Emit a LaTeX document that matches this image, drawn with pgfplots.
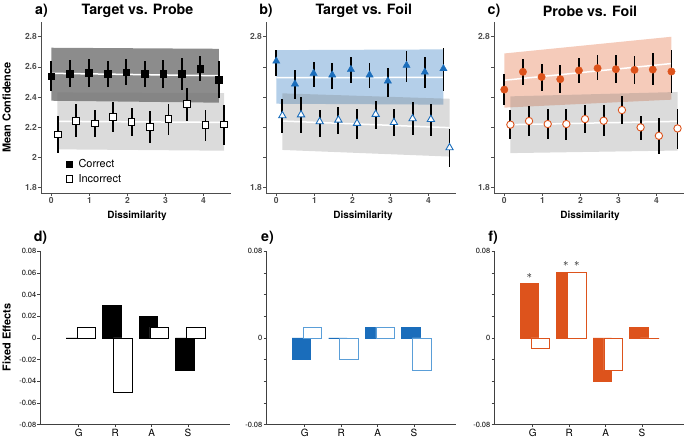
\documentclass[border=0pt]{standalone}
\usepackage{pgfplots}
\pgfplotsset{compat=1.18}
\usepackage{pgfplotstable}
\usepackage{fontspec}
\setmainfont{TeX Gyre Heros}
\definecolor{cblue}{HTML}{1A6DBB}
\definecolor{corange}{HTML}{DD531C}
\definecolor{lblue}{HTML}{5A9ED8}
\definecolor{axgray}{HTML}{4D4D4D}

% ---- panel a ----
\pgfplotstableread{
x y lo hi
0.00 2.539 2.439 2.638
0.49 2.554 2.468 2.643
0.99 2.561 2.468 2.654
1.48 2.554 2.464 2.636
1.97 2.565 2.477 2.652
2.46 2.554 2.466 2.641
2.94 2.554 2.457 2.645
3.43 2.554 2.446 2.656
3.91 2.588 2.506 2.672
4.40 2.515 2.395 2.638
}\aCor
\pgfplotstableread{
x y lo hi
0.18 2.152 2.030 2.273
0.65 2.242 2.136 2.351
1.14 2.225 2.132 2.313
1.62 2.267 2.169 2.364
2.11 2.234 2.143 2.327
2.59 2.200 2.092 2.307
3.08 2.254 2.147 2.351
3.57 2.353 2.242 2.459
4.05 2.214 2.108 2.315
4.54 2.218 2.079 2.346
}\aInc
% ---- panel b ----
\pgfplotstableread{
x y lo hi
0.00 2.638 2.539 2.712
0.49 2.486 2.384 2.579
0.98 2.557 2.464 2.632
1.47 2.546 2.453 2.626
1.96 2.583 2.490 2.665
2.45 2.546 2.462 2.626
2.93 2.506 2.402 2.594
3.42 2.610 2.501 2.705
3.90 2.565 2.457 2.663
4.39 2.588 2.442 2.723
}\bCor
\pgfplotstableread{
x y lo hi
0.16 2.276 2.163 2.386
0.65 2.282 2.163 2.397
1.14 2.236 2.136 2.313
1.63 2.247 2.154 2.331
2.12 2.225 2.123 2.322
2.61 2.285 2.189 2.375
3.09 2.231 2.138 2.322
3.58 2.256 2.146 2.366
4.06 2.251 2.143 2.351
4.55 2.063 1.933 2.189
}\bInc
% ---- panel c ----
\pgfplotstableread{
x y lo hi
0.00 2.449 2.349 2.551
0.49 2.567 2.482 2.649
0.98 2.533 2.440 2.622
1.47 2.518 2.424 2.611
1.96 2.576 2.496 2.662
2.45 2.591 2.511 2.676
2.93 2.584 2.491 2.680
3.42 2.580 2.487 2.673
3.90 2.582 2.478 2.693
4.39 2.569 2.427 2.711
}\cCor
\pgfplotstableread{
x y lo hi
0.16 2.216 2.118 2.311
0.65 2.240 2.138 2.338
1.14 2.220 2.122 2.318
1.63 2.220 2.116 2.318
2.12 2.253 2.160 2.344
2.61 2.242 2.138 2.344
3.09 2.313 2.222 2.404
3.58 2.198 2.116 2.273
4.06 2.142 2.018 2.262
4.55 2.191 2.056 2.320
}\cInc

\pgfplotsset{
  topax/.style={
    scale only axis, width=190bp, height=171.3bp, anchor=south west,
    xmin=-0.27, xmax=4.72, ymin=1.762, ymax=2.9,
    axis x line*=bottom, axis y line*=left,
    axis line style={axgray, line width=0.7bp, -},
    xtick={0,1,2,3,4},
    ytick={1.8,2,2.2,2.4,2.6,2.8},
    tick align=outside, major tick length=3bp,
    tick style={axgray, line width=0.7bp},
    /pgf/number format/assume math mode=true,
    ticklabel style={font=\bfseries\fontsize{8.5}{9}\selectfont, text=axgray},
    yticklabel style={inner sep=1bp},
    xticklabel style={inner sep=1.5bp},
  },
  errs/.style={error bars/.cd, y dir=both, y explicit, error mark=none,
    error bar style={line width=1.8bp, black, solid}},
  botax/.style={
    scale only axis, width=190bp, height=173.5bp, anchor=south west,
    xmin=-0.06, xmax=5.15, ymin=-0.08, ymax=0.08,
    axis x line*=bottom, axis y line*=left,
    axis line style={black!75, line width=0.6bp, -},
    xtick={1,2,3,4}, xticklabels={G,R,A,S},
    ytick={-0.08,-0.06,-0.04,-0.02,0,0.02,0.04,0.06,0.08},
    scaled y ticks=false,
    tick align=outside, major tick length=2.5bp,
    tick style={black!75, line width=0.6bp},
    /pgf/number format/assume math mode=true,
    xticklabel style={font=\fontsize{10}{11}\selectfont, inner sep=1.5bp},
    yticklabel style={font=\fontsize{7.5}{8}\selectfont, inner sep=1bp},
  },
}

\begin{document}
\begin{tikzpicture}
\useasboundingbox (0,0) rectangle (685bp,440bp);

% ================= a =================
\begin{axis}[topax, at={(41bp,247bp)},
  yticklabels={1.8,2,2.2,2.4,2.6,2.8},
  legend style={at={(axis cs:0.38,2.0)}, anchor=north west, draw=none, fill=none,
    font=\fontsize{11}{13}\selectfont, row sep=1bp, inner sep=0pt,
    /tikz/every odd column/.style={column sep=4bp}},
  legend cell align=left]
\addplot[draw=none, fill=black, fill opacity=0.45, forget plot] coordinates {(0,2.375) (4.40,2.362) (4.40,2.720) (0,2.727)} -- cycle;
\addplot[draw=none, fill=black!56, fill opacity=0.25, forget plot] coordinates {(0.16,2.052) (4.54,2.043) (4.54,2.426) (0.16,2.430)} -- cycle;
\addplot[white, line width=1.5bp, forget plot] coordinates {(0,2.557) (4.40,2.541)};
\addplot[white, line width=1.5bp, forget plot] coordinates {(0.16,2.238) (4.54,2.231)};
\addplot[only marks, mark=square*, mark size=3.3bp, black, errs] table[x=x, y=y, y error plus expr=\thisrow{hi}-\thisrow{y}, y error minus expr=\thisrow{y}-\thisrow{lo}] {\aCor};
\addlegendentry{Correct}
\addplot[only marks, mark=square*, mark size=3.3bp, mark options={fill=white, draw=black, line width=0.9bp}, errs] table[x=x, y=y, y error plus expr=\thisrow{hi}-\thisrow{y}, y error minus expr=\thisrow{y}-\thisrow{lo}] {\aInc};
\addlegendentry{Incorrect}
\end{axis}

% ================= b =================
\begin{axis}[topax, at={(266bp,247bp)}, yticklabels={1.8,,,,,2.8}]
\addplot[draw=none, fill=cblue, fill opacity=0.33] coordinates {(0,2.355) (4.39,2.349) (4.39,2.716) (0,2.711)} -- cycle;
\addplot[draw=none, fill=black!56, fill opacity=0.25] coordinates {(0.16,2.048) (4.55,2.004) (4.55,2.388) (0.16,2.424)} -- cycle;
\addplot[white, line width=1.5bp] coordinates {(0,2.528) (4.39,2.530)};
\addplot[white, line width=1.5bp] coordinates {(0.16,2.240) (4.55,2.196)};
\addplot[only marks, mark=triangle*, mark size=4.2bp, cblue, errs] table[x=x, y=y, y error plus expr=\thisrow{hi}-\thisrow{y}, y error minus expr=\thisrow{y}-\thisrow{lo}] {\bCor};
\addplot[only marks, mark=triangle*, mark size=4.2bp, mark options={fill=white, draw=cblue, line width=0.9bp}, errs] table[x=x, y=y, y error plus expr=\thisrow{hi}-\thisrow{y}, y error minus expr=\thisrow{y}-\thisrow{lo}] {\bInc};
\end{axis}

% ================= c =================
\begin{axis}[topax, at={(494bp,247bp)}, yticklabels={1.8,,,,,2.8}]
\addplot[draw=none, fill=corange, fill opacity=0.3] coordinates {(0,2.329) (4.39,2.382) (4.39,2.800) (0,2.689)} -- cycle;
\addplot[draw=none, fill=black!56, fill opacity=0.25] coordinates {(0.16,2.027) (4.55,2.044) (4.55,2.433) (0.16,2.404)} -- cycle;
\addplot[white, line width=1.5bp] coordinates {(0,2.511) (4.39,2.622)};
\addplot[white, line width=1.5bp] coordinates {(0.16,2.216) (4.55,2.238)};
\addplot[only marks, mark=*, mark size=3.7bp, corange, errs] table[x=x, y=y, y error plus expr=\thisrow{hi}-\thisrow{y}, y error minus expr=\thisrow{y}-\thisrow{lo}] {\cCor};
\addplot[only marks, mark=*, mark size=3.7bp, mark options={fill=white, draw=corange, line width=0.9bp}, errs] table[x=x, y=y, y error plus expr=\thisrow{hi}-\thisrow{y}, y error minus expr=\thisrow{y}-\thisrow{lo}] {\cInc};
\end{axis}

% ================= d =================
\begin{axis}[botax, at={(40bp,15.3bp)},
  yticklabels={-0.08,-0.06,-0.04,-0.02,0,0.02,0.04,0.06,0.08}]
\addplot[ybar, bar width=0.51, bar shift=-0.09, fill=black, draw=black, line width=0.8bp] coordinates {(1,0) (2,0.03) (3,0.02) (4,-0.03)};
\addplot[ybar, bar width=0.51, bar shift=0.21, fill=white, draw=black, line width=0.8bp] coordinates {(1,0.01) (2,-0.05) (3,0.01) (4,0.01)};
\end{axis}

% ================= e =================
\begin{axis}[botax, at={(266bp,15.3bp)},
  yticklabels={-0.08,,,,0,,,,0.08}]
\addplot[ybar, bar width=0.51, bar shift=-0.09, fill=cblue, draw=cblue, line width=0.8bp] coordinates {(1,-0.02) (2,0) (3,0.01) (4,0.01)};
\addplot[ybar, bar width=0.51, bar shift=0.21, fill=white, draw=lblue, line width=0.8bp] coordinates {(1,0.01) (2,-0.02) (3,0.01) (4,-0.03)};
\end{axis}

% ================= f =================
\begin{axis}[botax, at={(494bp,15.3bp)},
  yticklabels={-0.08,,,,0,,,,0.08}]
\addplot[ybar, bar width=0.51, bar shift=-0.09, fill=corange, draw=corange, line width=0.8bp] coordinates {(1,0.05) (2,0.06) (3,-0.04) (4,0.01)};
\addplot[ybar, bar width=0.51, bar shift=0.21, fill=white, draw=corange, line width=0.8bp] coordinates {(1,-0.01) (2,0.06) (3,-0.03) (4,0)};
\node[font=\bfseries\fontsize{11}{11}\selectfont] at (axis cs:0.91,0.057) {$\ast$};
\node[font=\bfseries\fontsize{11}{11}\selectfont] at (axis cs:1.91,0.068) {$\ast$};
\node[font=\bfseries\fontsize{11}{11}\selectfont] at (axis cs:2.21,0.068) {$\ast$};
\end{axis}

% ================= texts =================
\begin{scope}[every node/.style={inner sep=0pt}]
\node[font=\bfseries\fontsize{14.3}{15}\selectfont] at (41.5bp,429bp) {a)};
\node[font=\bfseries\fontsize{14.3}{15}\selectfont] at (266bp,429bp) {b)};
\node[font=\bfseries\fontsize{14.3}{15}\selectfont] at (494bp,429bp) {c)};
\node[font=\bfseries\fontsize{14.3}{15}\selectfont] at (137.5bp,429bp) {Target vs. Probe};
\node[font=\bfseries\fontsize{14.3}{15}\selectfont] at (363.8bp,429bp) {Target vs. Foil};
\node[font=\bfseries\fontsize{14.3}{15}\selectfont] at (590bp,429bp) {Probe vs. Foil};
\node[font=\bfseries\fontsize{11}{12}\selectfont, rotate=90] at (6.5bp,332.5bp) {Mean Confidence};
\node[font=\bfseries\fontsize{10}{11}\selectfont] at (137bp,224bp) {Dissimilarity};
\node[font=\bfseries\fontsize{10}{11}\selectfont] at (363bp,224bp) {Dissimilarity};
\node[font=\bfseries\fontsize{10}{11}\selectfont] at (590bp,224bp) {Dissimilarity};
\node[font=\bfseries\fontsize{11}{12}\selectfont, rotate=90] at (6.5bp,102.5bp) {Fixed Effects};
\node[font=\bfseries\fontsize{14.3}{15}\selectfont] at (40.5bp,202.5bp) {d)};
\node[font=\bfseries\fontsize{14.3}{15}\selectfont] at (267.5bp,202.5bp) {e)};
\node[font=\bfseries\fontsize{14.3}{15}\selectfont] at (493bp,202.5bp) {f)};
\end{scope}
\end{tikzpicture}
\end{document}
